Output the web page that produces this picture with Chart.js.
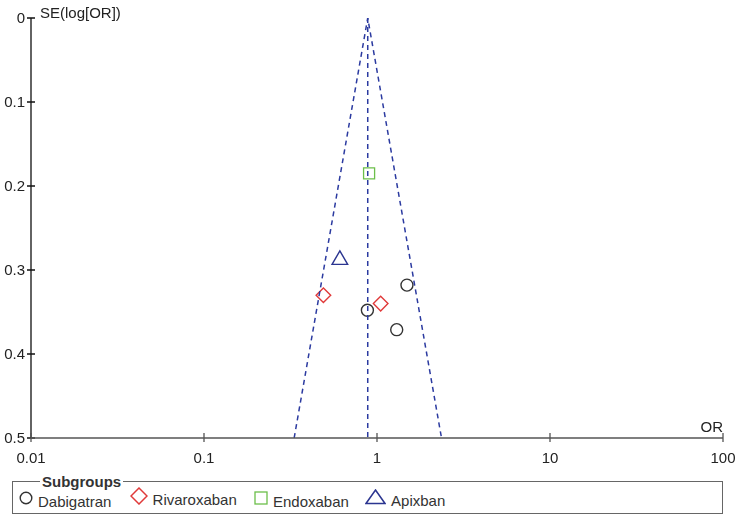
<!DOCTYPE html>
<html>
<head>
<meta charset="utf-8">
<script src="https://cdn.jsdelivr.net/npm/chart.js@4"></script>
<style>
  body { margin: 0; background: #fff; font-family: "Liberation Sans", Arial, sans-serif; }
  #wrap { position: absolute; left: 0; top: 0; width: 742px; height: 470px; }
  fieldset {
    position: absolute; left: 12px; top: 473px; width: 711px; height: 41px;
    margin: 0; padding: 0 0 0 6px; box-sizing: border-box;
    border: 1.5px solid #666; color: #333; font-size: 15px;
  }
  legend { font-weight: bold; margin-left: 21px; padding: 0 2px; font-size: 15px; color: #333; }
  .item { display: inline-flex; align-items: center; margin-right: 14px; position: relative; top: 0px; }
  .item svg { margin-right: 5px; position: relative; top: -3px; }
</style>
</head>
<body>
<div id="wrap"><canvas id="funnel"></canvas></div>
<fieldset>
  <legend>Subgroups</legend>
  <span class="item"><svg width="14" height="14"><circle cx="7" cy="7" r="5.8" fill="none" stroke="#333" stroke-width="1.4"/></svg>Dabigatran</span>
  <span class="item" style="margin-right:13px"><svg width="18" height="18"><polygon points="9,1 17,9 9,17 1,9" fill="none" stroke="#e03a3a" stroke-width="1.5"/></svg>Rivaroxaban</span>
  <span class="item" style="margin-right:12px"><svg width="14" height="14"><rect x="1" y="1" width="12" height="12" fill="none" stroke="#6cbf4a" stroke-width="1.3"/></svg>Endoxaban</span>
  <span class="item"><svg width="21" height="16"><polygon points="10.5,1 20,14.5 1,14.5" fill="none" stroke="#2b3590" stroke-width="1.5"/></svg>Apixban</span>
</fieldset>
<script>
// study points: odds ratio and standard error of log OR
const dabigatranOR = [1.49, 0.88, 1.30];
const dabigatranSE = [0.318, 0.348, 0.371];
const rivaroxabanOR = [0.49, 1.05];
const rivaroxabanSE = [0.330, 0.340];
const endoxabanOR = [0.90];
const endoxabanSE = [0.185];
const apixbanOR = [0.61];
const apixbanSE = [0.288];

// pooled estimate and funnel limits at SE = 0.5
const pooledOR = 0.884;
const funnelLeftOR = 0.332;
const funnelRightOR = 2.36;
const seMax = 0.5;

const xTicks = [0.01, 0.1, 1, 10, 100];
const yTicks = [0, 0.1, 0.2, 0.3, 0.4, 0.5];

const toPoints = (xs, ys) => xs.map((x, i) => ({ x, y: ys[i] }));

const lineColor = "#2b3aa0";
const textColor = "#222";
const fontFamily = "'Liberation Sans', Arial, sans-serif";

const axesPlugin = {
  id: "axesPlugin",
  afterDraw(chart) {
    const { ctx, chartArea, scales } = chart;
    const x = scales.x, y = scales.y;
    ctx.save();
    // y axis
    ctx.strokeStyle = "#111";
    ctx.lineWidth = 1.3;
    ctx.beginPath();
    ctx.moveTo(chartArea.left, y.getPixelForValue(0));
    ctx.lineTo(chartArea.left, y.getPixelForValue(seMax));
    yTicks.forEach(t => {
      const py = y.getPixelForValue(t);
      ctx.moveTo(chartArea.left - 4, py);
      ctx.lineTo(chartArea.left + 4, py);
    });
    ctx.stroke();
    // x axis
    ctx.strokeStyle = "#555";
    ctx.beginPath();
    ctx.moveTo(x.getPixelForValue(0.01), chartArea.bottom);
    ctx.lineTo(x.getPixelForValue(100), chartArea.bottom);
    xTicks.forEach(t => {
      const px = x.getPixelForValue(t);
      ctx.moveTo(px, chartArea.bottom - 5);
      ctx.lineTo(px, chartArea.bottom + 4);
    });
    ctx.stroke();
    // y tick labels and axis titles
    ctx.fillStyle = textColor;
    ctx.font = "15px " + fontFamily;
    ctx.textBaseline = "middle";
    ctx.textAlign = "right";
    yTicks.forEach(t => {
      ctx.fillText(String(t), chartArea.left - 6, y.getPixelForValue(t) + 1);
    });
    ctx.textAlign = "left";
    ctx.fillText("SE(log[OR])", chartArea.left + 9, chartArea.top - 4);
    ctx.textAlign = "right";
    ctx.fillText("OR", chartArea.right, chartArea.bottom - 10);
    ctx.restore();
  }
};

const markerBase = { showLine: false, borderWidth: 1.4, backgroundColor: "rgba(0,0,0,0)" };

new Chart(document.getElementById("funnel"), {
  type: "scatter",
  data: {
    datasets: [
      {
        label: "Funnel",
        data: [{ x: funnelLeftOR, y: seMax }, { x: pooledOR, y: 0 }, { x: funnelRightOR, y: seMax }],
        showLine: true, borderColor: lineColor, borderWidth: 1.5, borderDash: [5, 4],
        pointRadius: 0, fill: false
      },
      {
        label: "Pooled",
        data: [{ x: pooledOR, y: 0 }, { x: pooledOR, y: seMax }],
        showLine: true, borderColor: lineColor, borderWidth: 1.5, borderDash: [5, 4],
        pointRadius: 0, fill: false
      },
      { ...markerBase, label: "Dabigatran", data: toPoints(dabigatranOR, dabigatranSE),
        pointStyle: "circle", pointRadius: 6, borderColor: "#333" },
      { ...markerBase, label: "Rivaroxaban", data: toPoints(rivaroxabanOR, rivaroxabanSE),
        pointStyle: "rectRot", pointRadius: 7.3, borderColor: "#e03a3a" },
      { ...markerBase, label: "Endoxaban", data: toPoints(endoxabanOR, endoxabanSE),
        pointStyle: "rect", pointRadius: 7.8, borderColor: "#6cbf4a", borderWidth: 1.3 },
      { ...markerBase, label: "Apixban", data: toPoints(apixbanOR, apixbanSE),
        pointStyle: "triangle", pointRadius: 9, borderColor: "#2b3590" }
    ]
  },
  options: {
    responsive: true,
    maintainAspectRatio: false,
    animation: false,
    layout: { padding: { top: 18, right: 19, left: 0, bottom: 0 } },
    plugins: { legend: { display: false }, tooltip: { enabled: false } },
    scales: {
      x: {
        type: "logarithmic",
        min: 0.01,
        max: 100,
        afterBuildTicks: s => { s.ticks = xTicks.map(v => ({ value: v })); },
        afterFit: s => { s.height = 32; },
        grid: { display: false },
        border: { display: false },
        ticks: {
          color: textColor,
          padding: 4,
          maxRotation: 0,
          autoSkip: false,
          font: { size: 15, family: fontFamily },
          callback: v => String(v)
        }
      },
      y: {
        type: "linear",
        reverse: true,
        min: 0,
        max: seMax,
        afterBuildTicks: s => { s.ticks = yTicks.map(v => ({ value: v })); },
        afterFit: s => { s.width = 31; },
        grid: { display: false },
        border: { display: false },
        ticks: { display: false }
      }
    }
  },
  plugins: [axesPlugin]
});
</script>
</body>
</html>
